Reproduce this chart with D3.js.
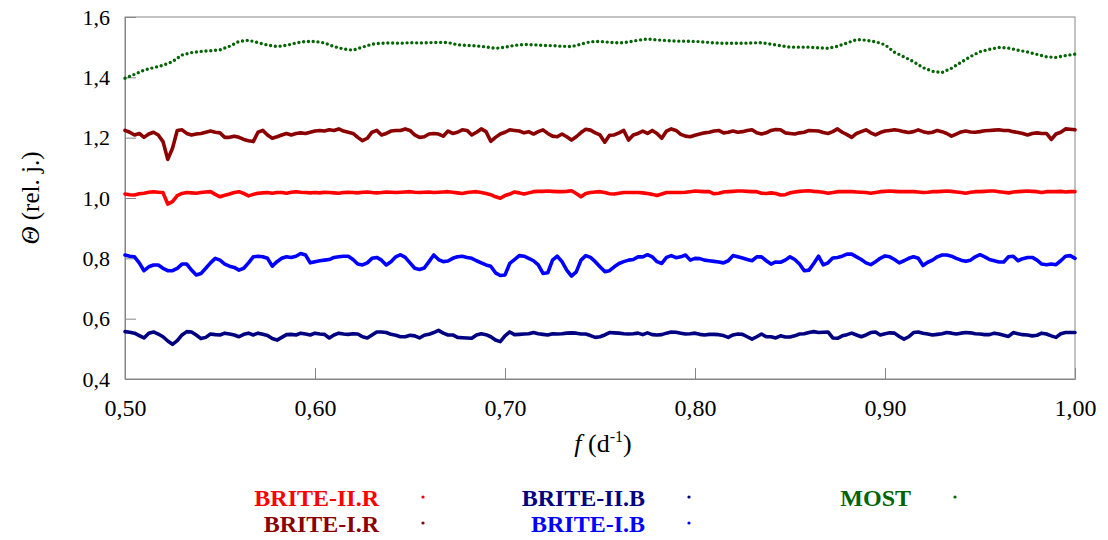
<!DOCTYPE html>
<html>
<head>
<meta charset="utf-8">
<script src="https://cdn.jsdelivr.net/npm/d3@7"></script>
<style>
  html, body { margin: 0; padding: 0; background: #fff; }
  svg { display: block; }
  text { font-family: "Liberation Serif", "Times New Roman", serif; }
</style>
</head>
<body>
<svg id="chart" width="1108" height="540"></svg>
<script>
// ---------- DATA ----------
// frequency grids (d^-1)
const freqBrite = d3.range(201).map(i => 0.5 + i * 0.0025);
const freqMost = d3.range(101).map(i => 0.5 + i * 0.005);

const xTicks = [0.5, 0.6, 0.7, 0.8, 0.9, 1.0];
const yTicks = [0.4, 0.6, 0.8, 1.0, 1.2, 1.4, 1.6];

const mostVals = [
 1.397,1.410,1.424,1.432,1.440,1.452,1.474,1.482,1.486,1.488,
 1.491,1.503,1.519,1.523,1.515,1.507,1.502,1.506,1.514,1.519,
 1.519,1.514,1.502,1.494,1.490,1.500,1.510,1.513,1.514,1.513,
 1.515,1.514,1.515,1.516,1.515,1.508,1.506,1.504,1.501,1.496,
 1.500,1.506,1.509,1.508,1.506,1.505,1.503,1.502,1.510,1.518,
 1.519,1.516,1.514,1.517,1.523,1.527,1.524,1.522,1.520,1.520,
 1.519,1.517,1.514,1.513,1.513,1.513,1.514,1.515,1.510,1.505,
 1.500,1.500,1.500,1.498,1.496,1.503,1.514,1.525,1.523,1.518,
 1.508,1.483,1.468,1.452,1.432,1.420,1.416,1.430,1.450,1.469,
 1.485,1.493,1.499,1.497,1.490,1.484,1.476,1.468,1.466,1.472,
 1.477];

const briteIR = [
 1.224,1.218,1.209,1.214,1.201,1.212,1.218,1.209,1.187,1.128,
 1.165,1.224,1.226,1.214,1.209,1.212,1.214,1.218,1.222,1.218,
 1.216,1.201,1.201,1.205,1.201,1.194,1.190,1.187,1.218,1.224,
 1.209,1.198,1.203,1.209,1.214,1.209,1.214,1.216,1.214,1.218,
 1.222,1.224,1.222,1.226,1.224,1.229,1.222,1.218,1.214,1.201,
 1.190,1.198,1.218,1.224,1.209,1.214,1.222,1.224,1.224,1.229,
 1.224,1.209,1.201,1.203,1.212,1.214,1.212,1.205,1.222,1.214,
 1.218,1.226,1.224,1.209,1.218,1.229,1.220,1.188,1.201,1.212,
 1.218,1.226,1.224,1.222,1.216,1.220,1.212,1.220,1.226,1.214,
 1.205,1.203,1.212,1.203,1.192,1.203,1.217,1.228,1.225,1.216,
 1.209,1.185,1.208,1.209,1.216,1.224,1.192,1.209,1.214,1.222,
 1.214,1.224,1.214,1.198,1.222,1.229,1.224,1.211,1.205,1.203,
 1.208,1.212,1.216,1.218,1.222,1.224,1.216,1.218,1.222,1.218,
 1.220,1.224,1.226,1.216,1.212,1.216,1.224,1.227,1.226,1.216,
 1.214,1.212,1.216,1.218,1.224,1.223,1.222,1.217,1.214,1.220,
 1.229,1.218,1.210,1.201,1.214,1.220,1.226,1.216,1.209,1.217,
 1.222,1.224,1.226,1.224,1.220,1.217,1.220,1.226,1.220,1.216,
 1.218,1.224,1.220,1.214,1.205,1.212,1.219,1.222,1.219,1.218,
 1.220,1.223,1.224,1.225,1.226,1.224,1.224,1.220,1.217,1.214,
 1.209,1.214,1.216,1.214,1.214,1.194,1.212,1.218,1.229,1.228,
 1.226];

const briteIIR = [
 1.013,1.011,1.010,1.014,1.016,1.019,1.021,1.019,1.018,0.980,
 0.988,1.008,1.015,1.018,1.017,1.016,1.018,1.020,1.021,1.012,
 1.004,1.009,1.013,1.018,1.021,1.015,1.007,1.012,1.016,1.017,
 1.018,1.016,1.018,1.018,1.016,1.019,1.021,1.019,1.018,1.017,
 1.018,1.017,1.019,1.018,1.017,1.016,1.018,1.019,1.018,1.017,
 1.019,1.020,1.018,1.017,1.018,1.020,1.019,1.018,1.019,1.020,
 1.021,1.019,1.018,1.019,1.020,1.018,1.019,1.020,1.021,1.019,
 1.017,1.015,1.018,1.020,1.021,1.018,1.015,1.011,1.004,0.999,
 1.008,1.013,1.020,1.017,1.013,1.017,1.021,1.022,1.022,1.023,
 1.022,1.021,1.021,1.022,1.024,1.015,1.004,1.015,1.018,1.020,
 1.021,1.018,1.014,1.013,1.016,1.018,1.018,1.018,1.018,1.017,
 1.015,1.012,1.008,1.013,1.018,1.018,1.018,1.018,1.019,1.021,
 1.023,1.022,1.021,1.021,1.014,1.016,1.020,1.021,1.022,1.023,
 1.023,1.022,1.021,1.021,1.016,1.015,1.017,1.015,1.010,1.011,
 1.017,1.020,1.022,1.023,1.024,1.022,1.021,1.019,1.016,1.018,
 1.021,1.021,1.021,1.021,1.020,1.019,1.018,1.016,1.018,1.021,
 1.022,1.023,1.022,1.021,1.021,1.021,1.021,1.020,1.018,1.019,
 1.021,1.021,1.022,1.023,1.022,1.020,1.018,1.016,1.019,1.021,
 1.021,1.022,1.023,1.023,1.021,1.019,1.017,1.020,1.021,1.022,
 1.023,1.022,1.021,1.018,1.021,1.021,1.021,1.022,1.020,1.021,
 1.021];

const briteIB = [
 0.811,0.807,0.805,0.785,0.759,0.772,0.778,0.778,0.767,0.759,
 0.759,0.767,0.781,0.781,0.761,0.745,0.750,0.767,0.785,0.800,
 0.794,0.781,0.774,0.770,0.761,0.767,0.785,0.805,0.807,0.805,
 0.800,0.774,0.789,0.800,0.805,0.803,0.807,0.816,0.811,0.785,
 0.789,0.792,0.794,0.796,0.803,0.805,0.807,0.807,0.796,0.781,
 0.778,0.785,0.800,0.803,0.794,0.778,0.789,0.805,0.812,0.803,
 0.785,0.767,0.763,0.768,0.789,0.811,0.796,0.789,0.791,0.800,
 0.805,0.807,0.803,0.800,0.792,0.785,0.778,0.774,0.752,0.743,
 0.745,0.783,0.796,0.809,0.807,0.800,0.792,0.778,0.750,0.752,
 0.794,0.807,0.789,0.761,0.741,0.755,0.794,0.809,0.803,0.789,
 0.772,0.756,0.759,0.772,0.783,0.789,0.794,0.796,0.805,0.805,
 0.812,0.805,0.789,0.783,0.803,0.809,0.802,0.805,0.811,0.794,
 0.800,0.799,0.794,0.792,0.790,0.788,0.785,0.792,0.809,0.805,
 0.801,0.796,0.792,0.805,0.805,0.792,0.781,0.788,0.787,0.794,
 0.805,0.796,0.781,0.759,0.761,0.783,0.807,0.778,0.785,0.801,
 0.803,0.807,0.814,0.814,0.805,0.796,0.785,0.779,0.789,0.800,
 0.808,0.805,0.796,0.785,0.792,0.800,0.805,0.800,0.776,0.787,
 0.794,0.805,0.811,0.811,0.807,0.800,0.794,0.790,0.794,0.805,
 0.812,0.805,0.796,0.792,0.788,0.788,0.805,0.807,0.792,0.799,
 0.803,0.803,0.794,0.781,0.779,0.781,0.779,0.792,0.807,0.809,
 0.800];

const briteIIB = [
 0.557,0.555,0.552,0.544,0.536,0.552,0.556,0.549,0.540,0.526,
 0.515,0.527,0.546,0.557,0.556,0.546,0.534,0.538,0.549,0.547,
 0.546,0.552,0.549,0.546,0.540,0.548,0.552,0.546,0.552,0.548,
 0.544,0.534,0.529,0.538,0.547,0.548,0.546,0.552,0.549,0.546,
 0.552,0.549,0.548,0.536,0.546,0.552,0.549,0.548,0.550,0.549,
 0.540,0.536,0.546,0.556,0.556,0.554,0.548,0.545,0.540,0.540,
 0.545,0.543,0.536,0.545,0.548,0.554,0.561,0.552,0.546,0.546,
 0.538,0.537,0.536,0.535,0.546,0.550,0.547,0.540,0.529,0.524,
 0.543,0.556,0.547,0.548,0.549,0.550,0.554,0.550,0.548,0.546,
 0.550,0.549,0.550,0.552,0.553,0.552,0.549,0.549,0.544,0.538,
 0.540,0.546,0.554,0.553,0.552,0.550,0.549,0.550,0.552,0.547,
 0.553,0.547,0.546,0.547,0.552,0.556,0.555,0.552,0.549,0.550,
 0.552,0.548,0.546,0.548,0.548,0.547,0.544,0.538,0.546,0.549,
 0.548,0.540,0.532,0.540,0.549,0.540,0.540,0.536,0.543,0.539,
 0.539,0.543,0.549,0.550,0.554,0.557,0.554,0.555,0.556,0.536,
 0.535,0.543,0.547,0.552,0.546,0.540,0.546,0.554,0.556,0.546,
 0.550,0.553,0.552,0.541,0.532,0.540,0.554,0.556,0.552,0.549,
 0.546,0.548,0.550,0.554,0.552,0.549,0.552,0.554,0.553,0.550,
 0.549,0.547,0.547,0.552,0.549,0.545,0.541,0.554,0.550,0.547,
 0.546,0.543,0.545,0.552,0.549,0.543,0.538,0.550,0.554,0.554,
 0.554];

const seriesNames = ["BRITE-II.R", "BRITE-I.R", "BRITE-II.B", "BRITE-I.B", "MOST"];
const seriesColors = ["#ff0000", "#8b0000", "#000080", "#0000ff", "#006400"];

// ---------- CHART ----------
const svg = d3.select("#chart");
svg.append("rect").attr("width", 1108).attr("height", 540).attr("fill", "#fff");

const plot = { left: 125, right: 1075, top: 17, bottom: 379 };
const x = d3.scaleLinear().domain([0.5, 1.0]).range([plot.left, plot.right]);
const y = d3.scaleLinear().domain([0.4, 1.6]).range([plot.bottom, plot.top]);
const axisColor = "#868686";
const comma = (fmt) => (d) => d3.format(fmt)(d).replace(".", ",");

// frame
svg.append("rect")
  .attr("x", plot.left).attr("y", plot.top)
  .attr("width", plot.right - plot.left).attr("height", plot.bottom - plot.top)
  .attr("fill", "none").attr("stroke", axisColor).attr("stroke-width", 1);

const gx = svg.append("g")
  .attr("transform", `translate(0,${plot.bottom})`)
  .call(d3.axisBottom(x).tickValues(xTicks).tickFormat(comma(".2f"))
    .tickSize(-11).tickSizeOuter(0).tickPadding(20));
const gy = svg.append("g")
  .attr("transform", `translate(${plot.left},0)`)
  .call(d3.axisLeft(y).tickValues(yTicks).tickFormat(comma(".1f"))
    .tickSize(-11).tickSizeOuter(0).tickPadding(15));
[gx, gy].forEach(g => {
  g.selectAll("path.domain").attr("stroke", axisColor);
  g.selectAll(".tick line").attr("stroke", axisColor);
  g.selectAll(".tick text").attr("fill", "#000")
    .attr("font-family", "'Liberation Serif', 'Times New Roman', serif");
});
gx.selectAll(".tick text").attr("font-size", 24);
gy.selectAll(".tick text").attr("font-size", 22);

// series lines
const line = d3.line().x(d => x(d[0])).y(d => y(d[1]));
const briteSeries = [
  { vals: briteIIB, color: seriesColors[2] },
  { vals: briteIB, color: seriesColors[3] },
  { vals: briteIIR, color: seriesColors[0] },
  { vals: briteIR, color: seriesColors[1] }
];
briteSeries.forEach(s => {
  svg.append("path")
    .datum(freqBrite.map((f, i) => [f, s.vals[i]]))
    .attr("d", line)
    .attr("fill", "none")
    .attr("stroke", s.color)
    .attr("stroke-width", 3.6)
    .attr("stroke-linejoin", "round")
    .attr("stroke-linecap", "round");
});
svg.append("path")
  .datum(freqMost.map((f, i) => [f, mostVals[i]]))
  .attr("d", line)
  .attr("fill", "none")
  .attr("stroke", seriesColors[4])
  .attr("stroke-width", 3.4)
  .attr("stroke-linecap", "round")
  .attr("stroke-dasharray", "0 4.8");

// axis titles
const yTitle = svg.append("text")
  .attr("transform", `translate(39,${(plot.top + plot.bottom) / 2}) rotate(-90)`)
  .attr("text-anchor", "middle")
  .attr("font-size", 25).attr("fill", "#000");
yTitle.append("tspan").attr("font-style", "italic").text("Θ");
yTitle.append("tspan").text(" (rel. j.)");

const xTitle = svg.append("text")
  .attr("x", 603).attr("y", 452)
  .attr("text-anchor", "middle")
  .attr("font-size", 26).attr("fill", "#000");
xTitle.append("tspan").attr("font-style", "italic").text("f");
xTitle.append("tspan").text(" (d");
xTitle.append("tspan").attr("font-size", 16).attr("dy", -10).text("-1");
xTitle.append("tspan").attr("dy", 10).text(")");

// legend
const legendItems = [
  { name: seriesNames[0], color: seriesColors[0], tx: 379, dx: 423, ty: 506 },
  { name: seriesNames[1], color: seriesColors[1], tx: 379, dx: 423, ty: 532 },
  { name: seriesNames[2], color: seriesColors[2], tx: 645, dx: 689, ty: 506 },
  { name: seriesNames[3], color: seriesColors[3], tx: 645, dx: 689, ty: 532 },
  { name: seriesNames[4], color: seriesColors[4], tx: 911, dx: 955, ty: 506 }
];
const lg = svg.append("g");
legendItems.forEach(it => {
  lg.append("text")
    .attr("x", it.tx).attr("y", it.ty)
    .attr("text-anchor", "end")
    .attr("font-size", 24).attr("font-weight", "bold")
    .attr("fill", it.color).text(it.name);
  lg.append("circle")
    .attr("cx", it.dx).attr("cy", it.ty - 9).attr("r", 1.6)
    .attr("fill", it.color);
});
</script>
</body>
</html>
